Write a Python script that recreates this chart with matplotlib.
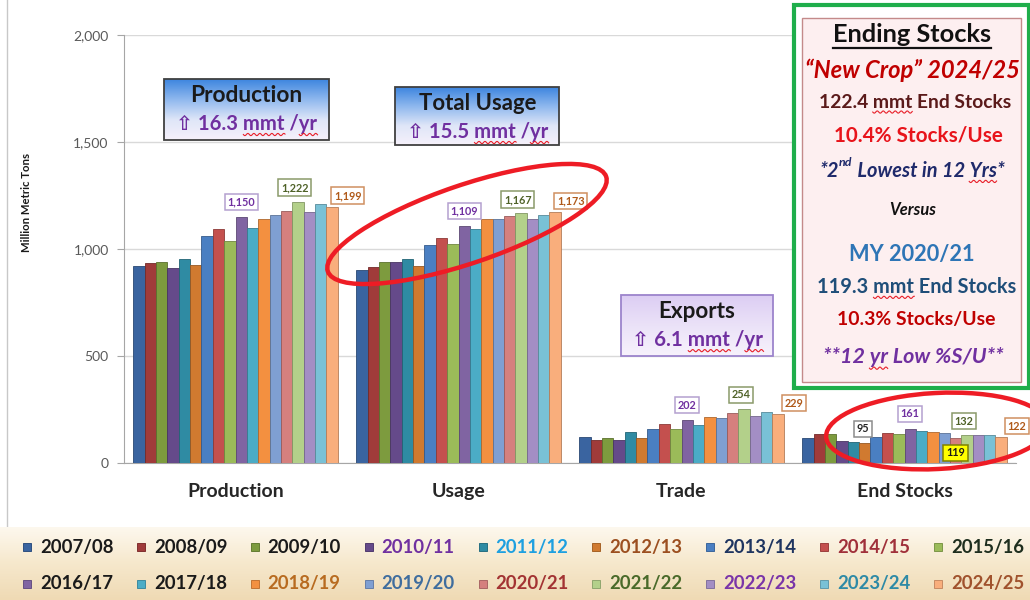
import numpy as np
import matplotlib
matplotlib.use("Agg")
import matplotlib.pyplot as plt
from matplotlib.patches import Ellipse, Rectangle
import matplotlib.colors as mcolors

# ---------------- data ----------------
categories = ["Production", "Usage", "Trade", "End Stocks"]
years = ["2007/08", "2008/09", "2009/10", "2010/11", "2011/12", "2012/13",
         "2013/14", "2014/15", "2015/16", "2016/17", "2017/18", "2018/19",
         "2019/20", "2020/21", "2021/22", "2022/23", "2023/24", "2024/25"]
production = [921, 936, 942, 912, 956, 926, 1062, 1092, 1039, 1150, 1100, 1141,
              1159, 1178, 1222, 1172, 1209, 1199]
usage = [903, 917, 940, 940, 956, 922, 1019, 1053, 1023, 1109, 1094, 1141,
         1141, 1153, 1167, 1141, 1159, 1173]
trade = [125, 109, 119, 109, 144, 119, 162, 183, 158, 202, 181, 214,
         211, 233, 254, 222, 241, 229]
end_stocks = [120, 136, 136, 104, 99, 95, 125, 141, 136, 161, 151, 145,
              141, 119, 132, 132, 132, 122]
yticks = [0, 500, 1000, 1500, 2000]
# indices of labelled bars per category
labelled = [[9, 14, 17], [9, 14, 17], [9, 14, 17], [5, 9, 13, 14, 17]]

FONT = ['Lato', 'DejaVu Sans']
plt.rcParams['font.family'] = FONT

bar_colors = ['#3a64a0', '#a03b3a', '#7d9b3e', '#654a8a', '#2f8ba3', '#d07a30',
              '#4a7fc2', '#c4504e', '#9bbb59', '#8064a2', '#4bacc6', '#f39040',
              '#7f9fd2', '#d5807e', '#b3d08a', '#a38ec4', '#79c1d6', '#f9ae7c']
legend_text_colors = ['#1a1a1a', '#1a1a1a', '#1a1a1a', '#7030a0', '#1ea0e0', '#9c4f20',
                      '#1f3560', '#a0303a', '#1e2e1e', '#1a1a1a', '#1a1a1a', '#b86b20',
                      '#3f6d9e', '#a33333', '#4a6a2a', '#7a35a8', '#2e8aa6', '#a0522d']
label_style = {5: dict(tc='#262626', fc='white', ec='#8c8c8c'),
               9: dict(tc='#7030a0', fc='white', ec='#b4a0d0'),
               13: dict(tc='#1a1a1a', fc='#ffff00', ec='#808000'),
               14: dict(tc='#4f6228', fc='white', ec='#8a9a6a'),
               17: dict(tc='#b05a1a', fc='white', ec='#d09060')}
label_offset_px = {5: (-2, 14), 9: (0, 15), 13: (0, -15), 14: (-3, 14), 17: (16, 11)}


def darker(c, f=0.72):
    r, g, b = mcolors.to_rgb(c)
    return (r * f, g * f, b * f)


W, H = 1030, 600
fig = plt.figure(figsize=(W / 100, H / 100), dpi=100)
fig.patch.set_facecolor('white')
renderer = fig.canvas.get_renderer()

# ---------------- main axes ----------------
y0_px, y1_px = 463.3, 35.0
ax = fig.add_axes([124 / W, 1 - y0_px / H, (1016 - 124) / W, (y0_px - y1_px) / H])
ax.set_zorder(1)
data = np.array([production, usage, trade, end_stocks])
x = np.arange(len(categories))
n = len(years)
bw = 0.915 / n
for i in range(n):
    ax.bar(x + (i - (n - 1) / 2) * bw, data[:, i], bw, color=bar_colors[i],
           edgecolor=darker(bar_colors[i]), linewidth=0.6, zorder=3)

ax.set_xlim(-0.5, len(categories) - 0.5)
ax.set_ylim(0, 2000)
ax.set_yticks(yticks)
ax.set_yticklabels([f"{v:,}" for v in yticks])
ax.yaxis.grid(True, color='#d9d9d9', lw=1, zorder=0)
ax.set_axisbelow(True)
for s in ['top', 'right']:
    ax.spines[s].set_visible(False)
ax.spines['left'].set_color('#a6a6a6')
ax.spines['bottom'].set_color('#a6a6a6')
ax.tick_params(axis='y', direction='out', length=5, color='#a6a6a6',
               labelsize=10, labelcolor='#595959', pad=6)
ax.set_xticks(x)
ax.set_xticklabels(categories, fontsize=14, fontweight='bold', color='#262626')
ax.tick_params(axis='x', length=0, pad=14)
ax.set_ylabel("Million Metric Tons", fontsize=8.2, fontweight='bold', color='#1a1a1a')
ax.yaxis.set_label_coords((32 - 124) / (1016 - 124), (y0_px - 203) / (y0_px - y1_px))

# data labels
for g, idxs in enumerate(labelled):
    for i in idxs:
        st = label_style[i]
        dx, dy = label_offset_px[i]
        v = data[g, i]
        ax.annotate(f"{v:,}", xy=(x[g] + (i - (n - 1) / 2) * bw, v),
                    xytext=(dx * 0.72, dy * 0.72), textcoords='offset points',
                    ha='center', va='center', fontsize=7.8, fontweight='bold',
                    color=st['tc'], zorder=6,
                    bbox=dict(boxstyle='square,pad=0.25', fc=st['fc'], ec=st['ec'], lw=1.1))

# ---------------- overlay (pixel coordinates) ----------------
ov = fig.add_axes([0, 0, 1, 1])
ov.set_zorder(2)
ov.patch.set_visible(False)
ov.axis('off')
ov.set_xlim(0, W)
ov.set_ylim(H, 0)
ov.set_autoscale_on(False)


def grad_rect(x0, y0, x1, y1, stops, edge=None, lw=1.0, z=2):
    t = np.linspace(0, 1, 256)
    pos = np.linspace(0, 1, len(stops))
    cols = np.array([mcolors.to_rgb(c) for c in stops])
    arr = np.stack([np.interp(t, pos, cols[:, k]) for k in range(3)], axis=1)[:, None, :]
    ov.imshow(arr, extent=(x0, x1, y1, y0), aspect='auto', zorder=z, interpolation='bilinear')
    if edge:
        ov.add_patch(Rectangle((x0, y0), x1 - x0, y1 - y0, fill=False, ec=edge, lw=lw, zorder=z + 0.1))


def fit_text(xc, yc, s, width, ha='center', size0=12, **kw):
    t = ov.text(xc, yc, s, fontsize=size0, ha=ha, va='center', **kw)
    bb = t.get_window_extent(renderer)
    t.set_fontsize(size0 * width / bb.width)
    return t


def text_width(s, props):
    tt = ov.text(0, 300, s, fontproperties=props)
    w = tt.get_window_extent(renderer).width
    tt.remove()
    return w


def squiggle(t, sub, yc):
    """red spell-check wavy underline below substring `sub` of text t"""
    s = t.get_text()
    k = s.index(sub)
    props = t.get_fontproperties()
    bb = t.get_window_extent(renderer)
    right = bb.x0 + text_width(s[:k + len(sub)], props)
    left = right - text_width(sub, props)
    yy = yc + t.get_fontsize() * 100 / 72 * 0.52
    xs = np.linspace(left, right, 80)
    ys = yy + 1.1 * np.sin((xs - left) / 3.0 * 2 * np.pi / 2)
    ov.plot(xs, ys, color='#e8202a', lw=0.8, zorder=4.5)


# frame line on the left
ov.plot([7, 7], [0, 527], color='#c8c8c8', lw=1, zorder=1)

# Production / Total Usage boxes
blue_stops = ['#3d85df', '#8fb8ee', '#dfe6f8', '#f6f1fb']
grad_rect(164, 79, 329, 140, blue_stops, edge='#404040', lw=1.3)
fit_text(246, 96, "Production", 112, fontweight='bold', color='#1a1a1a', zorder=4)
t = fit_text(247, 124, "⇧ 16.3 mmt /yr", 140, fontweight='bold', color='#7030a0', zorder=4)
squiggle(t, "mmt", 124); squiggle(t, "yr", 124)
grad_rect(395, 87, 559, 145, blue_stops, edge='#404040', lw=1.3)
fit_text(478, 103, "Total Usage", 117, fontweight='bold', color='#1a1a1a', zorder=4)
t = fit_text(478, 132, "⇧ 15.5 mmt /yr", 140, fontweight='bold', color='#7030a0', zorder=4)
squiggle(t, "mmt", 132); squiggle(t, "yr", 132)

# Exports box
grad_rect(621, 295, 773, 356, ['#dccdf3', '#ebe2f8', '#f7f2fc'], edge='#9c84cc', lw=1.3)
fit_text(697, 312, "Exports", 77, fontweight='bold', color='#1a1a1a', zorder=4)
t = fit_text(698, 340, "⇧ 6.1 mmt /yr", 130, fontweight='bold', color='#7030a0', zorder=4)
squiggle(t, "mmt", 340); squiggle(t, "yr", 340)

# red ellipses
ov.add_patch(Ellipse((467, 224), 294, 78, angle=-18.8, fill=False, ec='#ee1c25', lw=3.2, zorder=5))
ov.add_patch(Ellipse((937, 431), 222, 76, angle=-3, fill=False, ec='#ee1c25', lw=3.2, zorder=5))

# Ending stocks panel
ov.add_patch(Rectangle((794, 5), 235, 383, fc='white', ec='#1fae4b', lw=3, zorder=3))
ov.add_patch(Rectangle((802, 18), 219, 364, fc='#fdeff0', ec='#c48a8a', lw=1, zorder=3.1))
cx = 912
t = fit_text(cx, 35, "Ending Stocks", 158, fontweight='bold', color='#111111', zorder=4)
bb = t.get_window_extent(renderer)
ov.plot([bb.x0, bb.x1], [47.5, 47.5], color='#111111', lw=1.6, zorder=4)
fit_text(cx, 70, "\u201cNew Crop\u201d 2024/25", 214, fontweight='bold', style='italic',
         color='#c00000', zorder=4)
t = fit_text(cx + 3, 102, "122.4 mmt End Stocks", 192, fontweight='bold', color='#5b1a1a', zorder=4)
squiggle(t, "mmt", 102)
fit_text(cx + 6, 135, "10.4% Stocks/Use", 168, fontweight='bold', color='#e8141b', zorder=4)

# "*2nd Lowest in 12 Yrs*" with superscript
base = 12
parts = [("*2", 1.0, 0), ("nd", 0.62, 0.42), (" Lowest in 12 Yrs*", 1.0, 0)]
tmp = []
for s, f, r in parts:
    tt = ov.text(0, 300, s, fontsize=base * f, fontweight='bold', style='italic')
    tmp.append(tt.get_window_extent(renderer).width)
    tt.remove()
scale = 185 / sum(tmp)
xs = cx - 185 / 2
for (s, f, r), w in zip(parts, tmp):
    fs = base * f * scale
    tt = ov.text(xs, 171 - r * base * scale * 1.39, s, fontsize=fs, fontweight='bold', style='italic',
                 color='#1f2a6b', ha='left', va='center', zorder=4)
    if "Yrs" in s:
        squiggle(tt, "Yrs", 171)
    xs += w * scale

fit_text(cx + 1, 210, "Versus", 47, fontweight='bold', style='italic', color='#111111', zorder=4)
fit_text(cx, 255, "MY 2020/21", 125, fontweight='bold', color='#2e75b6', zorder=4)
t = fit_text(cx + 5, 287, "119.3 mmt End Stocks", 198, fontweight='bold', color='#1f4e79', zorder=4)
squiggle(t, "mmt", 287)
fit_text(cx + 4, 320, "10.3% Stocks/Use", 158, fontweight='bold', color='#c00000', zorder=4)
t = fit_text(cx + 1, 357, "**12 yr Low %S/U**", 180, fontweight='bold', style='italic',
             color='#7030a0', zorder=4)
squiggle(t, "yr", 357)

# legend band
grad_rect(0, 527, W, H, ['#fdf8ee', '#f6e8cc', '#efdab4'], z=1)
col_x = np.linspace(23, 934, 9)
row_y = [547, 584]
probe = ov.text(0, 300, "2007/08", fontsize=12, fontweight='bold')
lfs = 12 * 73 / probe.get_window_extent(renderer).width
probe.remove()
for i, yr in enumerate(years):
    r, c = divmod(i, 9)
    xx, yy = col_x[c], row_y[r]
    ov.add_patch(Rectangle((xx, yy - 4), 8, 8, fc=bar_colors[i], ec=darker(bar_colors[i], 0.8),
                           lw=0.7, zorder=3))
    ov.text(xx + 17, yy, yr, fontsize=lfs, fontweight='bold', color=legend_text_colors[i],
            ha='left', va='center', zorder=3)

ov.set_xlim(0, W)
ov.set_ylim(H, 0)

fig.savefig("out.png", dpi=100, facecolor='white')
